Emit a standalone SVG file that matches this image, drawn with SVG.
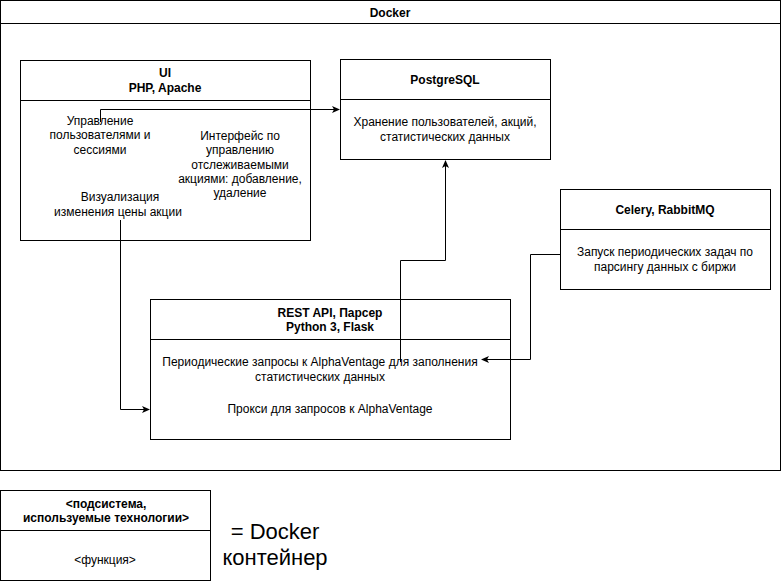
<svg xmlns="http://www.w3.org/2000/svg" width="781" height="581" viewBox="0 0 781 581">
<style>
.box{fill:#fff;stroke:#000;stroke-width:1}
.ln{stroke:#000;stroke-width:1;fill:none}
text{font-family:"Liberation Sans",Arial,Helvetica,sans-serif;font-size:12px;fill:#000;text-anchor:middle}
.b{font-weight:bold}
.big{font-size:22px}
.c{stroke:#000;stroke-width:1;fill:none;marker-end:url(#ah)}
</style>
<defs>
<marker id="ah" markerWidth="8" markerHeight="8" refX="7" refY="4" orient="auto" markerUnits="userSpaceOnUse">
<path d="M0,0.5 L8,4 L0,7.5 L2,4 Z" fill="#000"/>
</marker>
</defs>
<g id="docker">
<rect class="box" x="0.5" y="0.5" width="780" height="470"/>
<line class="ln" x1="0.5" y1="23.5" x2="780.5" y2="23.5"/>
<text class="b" x="390" y="17">Docker</text>
</g>
<g id="ui">
<rect class="box" x="20.5" y="60.5" width="290" height="180"/>
<line class="ln" x1="20.5" y1="100.5" x2="310.5" y2="100.5"/>
<text class="b" x="165" y="77">UI</text>
<text class="b" x="165" y="92">PHP, Apache</text>
</g>
<g id="postgres">
<rect class="box" x="340.5" y="59.5" width="210" height="100"/>
<line class="ln" x1="340.5" y1="99.5" x2="550.5" y2="99.5"/>
<text class="b" x="445" y="84">PostgreSQL</text>
<text x="445" y="126">Хранение пользователей, акций,</text>
<text x="445" y="141">статистических данных</text>
</g>
<g id="celery">
<rect class="box" x="560.5" y="189.5" width="210" height="100"/>
<line class="ln" x1="560.5" y1="229.5" x2="770.5" y2="229.5"/>
<text class="b" x="665" y="214">Celery, RabbitMQ</text>
<text x="665" y="256">Запуск периодических задач по</text>
<text x="665" y="271">парсингу данных с биржи</text>
</g>
<g id="rest">
<rect class="box" x="150.5" y="299.5" width="360" height="140"/>
<line class="ln" x1="150.5" y1="339.5" x2="510.5" y2="339.5"/>
<text class="b" x="330" y="317">REST API, Парсер</text>
<text class="b" x="330" y="331">Python 3, Flask</text>
</g>
<g id="connectors">
<path class="c" d="M100.5,122 V109.5 H339"/>
<path class="c" d="M120.5,220 V409.5 H149"/>
<path class="c" d="M400.5,362 V260.5 H445.5 V161"/>
<path class="c" d="M560,254.5 H530.5 V359.5 H482"/>
</g>
<g id="ui-texts">
<text x="100" y="125">Управление</text>
<text x="100" y="139">пользователями и</text>
<text x="100" y="154">сессиями</text>
<text x="240" y="140">Интерфейс по</text>
<text x="240" y="154">управлению</text>
<text x="240" y="169">отслеживаемыми</text>
<text x="240" y="183">акциями: добавление,</text>
<text x="240" y="197">удаление</text>
<text x="120" y="201">Визуализация</text>
<text x="118" y="216">изменения цены акции</text>
</g>
<g id="rest-texts">
<text x="320" y="366">Периодические запросы к AlphaVentage для заполнения</text>
<text x="320" y="381">статистических данных</text>
<text x="330" y="413">Прокси для запросов к AlphaVentage</text>
</g>
<g id="legend">
<rect class="box" x="0.5" y="490.5" width="210" height="90"/>
<line class="ln" x1="0.5" y1="530.5" x2="210.5" y2="530.5"/>
<text class="b" x="106" y="508">&lt;подсистема,</text>
<text class="b" x="106" y="522">используемые технологии&gt;</text>
<text x="105" y="564">&lt;функция&gt;</text>
<text class="big" x="275" y="539">= Docker</text>
<text class="big" x="275" y="565">контейнер</text>
</g>
</svg>
